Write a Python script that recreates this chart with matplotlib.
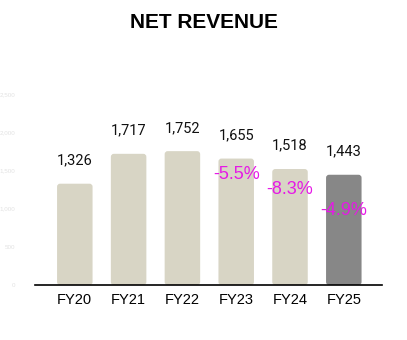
import matplotlib.pyplot as plt
from matplotlib.patches import FancyBboxPatch

years = ["FY20", "FY21", "FY22", "FY23", "FY24", "FY25"]
revenue = [1326, 1717, 1752, 1655, 1518, 1443]
growth = [None, None, None, "-5.5%", "-8.3%", "-4.9%"]
bar_colors = ["#D8D5C5", "#D8D5C5", "#D8D5C5", "#D8D5C5", "#D8D5C5", "#878787"]
yticks = [0, 500, 1000, 1500, 2000, 2500]
# how far below the bar top each growth label sits, in pixels
growth_drop = [0, 0, 0, 16, 20, 35]

plt.rcParams['font.family'] = ['Liberation Sans', 'DejaVu Sans']

fig = plt.figure(figsize=(4.07, 3.4), dpi=100)
ax = fig.add_axes([35/407, 1 - 285/340, 347/407, 191/340])

x = list(range(len(years)))
ax.set_xlim(-0.74, 5.71)
ax.set_ylim(0, 2500)

# bars with small rounded corners
px_x = 1 / 53.8
px_y = 500 / 37.7
bars = ax.bar(x, revenue, width=0.66, color="none")
for b, c in zip(bars, bar_colors):
    r = 3 * px_x
    p = FancyBboxPatch((b.get_x() + r, r * px_y / px_x),
                       b.get_width() - 2 * r, b.get_height() - 2 * r * px_y / px_x,
                       boxstyle="round,pad=%f,rounding_size=%f" % (r, r),
                       mutation_aspect=px_y / px_x,
                       facecolor=c, edgecolor="none")
    ax.add_patch(p)

for xi, v in zip(x, revenue):
    ax.text(xi, v + 23 * px_y, "{:,}".format(v), ha="center", va="center",
            fontsize=10.5, family=["Roboto", "DejaVu Sans"], color="#111111")

for xi, v, g, d in zip(x, revenue, growth, growth_drop):
    if g:
        ax.text(xi, v - d * px_y, g, ha="center", va="center",
                fontsize=13, color="#E619E6")

ax.set_xticks(x)
ax.set_xticklabels(years, fontsize=10.5)
ax.tick_params(axis="x", length=0, pad=6)
ax.set_yticks(yticks)
ax.set_yticklabels(["{:,}".format(t) for t in yticks], fontsize=4.5, color="#E2E2E2")
ax.tick_params(axis="y", length=0, pad=14)

for s in ["top", "right", "left"]:
    ax.spines[s].set_visible(False)
ax.spines["bottom"].set_color("black")
ax.spines["bottom"].set_linewidth(1.2)

fig.text(0.5, 1 - 22/340, "NET REVENUE", ha="center", va="center",
         fontsize=15, fontweight="bold")

fig.savefig("out.png", dpi=100)
